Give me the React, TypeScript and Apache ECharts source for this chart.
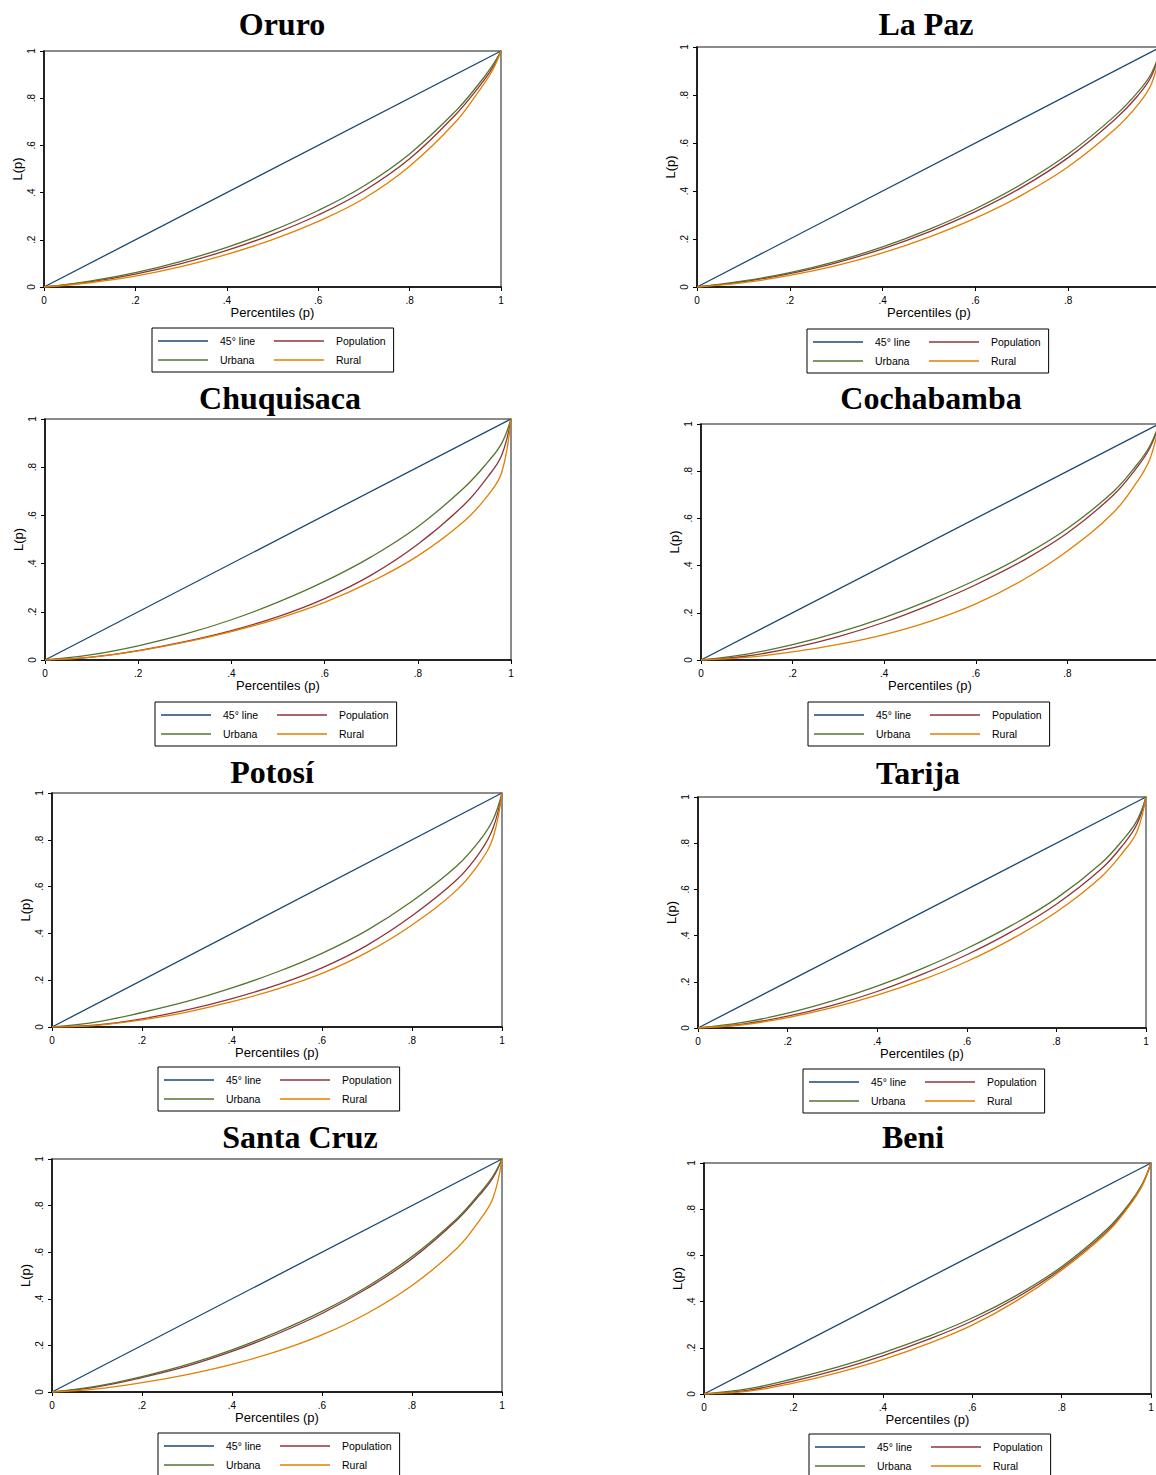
import React, { useEffect, useRef } from "react";
import * as echarts from "echarts";

// ---------- data ----------
const percentiles = [0, 0.1, 0.2, 0.3, 0.4, 0.5, 0.6, 0.7, 0.8, 0.9, 0.95, 0.98, 1];
const equalityX = [0, 1];
const equalityY = [0, 1];
const seriesNames = ["45° line", "Population", "Urbana", "Rural"];

const oruroUrbana = [0, 0.025, 0.061, 0.109, 0.168, 0.239, 0.324, 0.428, 0.564, 0.744, 0.857, 0.935, 1];
const oruroPopulation = [0, 0.022, 0.055, 0.099, 0.155, 0.223, 0.305, 0.407, 0.543, 0.729, 0.844, 0.924, 1];
const oruroRural = [0, 0.018, 0.046, 0.086, 0.138, 0.201, 0.278, 0.375, 0.512, 0.698, 0.826, 0.913, 1];

const laPazUrbana = [0, 0.025, 0.06, 0.107, 0.167, 0.24, 0.326, 0.429, 0.554, 0.712, 0.812, 0.893, 1];
const laPazPopulation = [0, 0.022, 0.056, 0.101, 0.159, 0.23, 0.314, 0.415, 0.539, 0.697, 0.797, 0.881, 1];
const laPazRural = [0, 0.018, 0.048, 0.089, 0.142, 0.208, 0.287, 0.383, 0.501, 0.656, 0.759, 0.849, 1];

const chuquisacaUrbana = [0, 0.022, 0.059, 0.107, 0.167, 0.24, 0.326, 0.428, 0.553, 0.716, 0.821, 0.899, 1];
const chuquisacaPopulation = [0, 0.012, 0.039, 0.076, 0.122, 0.18, 0.255, 0.352, 0.48, 0.645, 0.76, 0.85, 1];
const chuquisacaRural = [0, 0.012, 0.038, 0.074, 0.118, 0.172, 0.239, 0.325, 0.432, 0.577, 0.682, 0.778, 1];

const cochabambaUrbana = [0, 0.025, 0.065, 0.117, 0.18, 0.254, 0.339, 0.438, 0.557, 0.713, 0.823, 0.907, 1];
const cochabambaPopulation = [0, 0.017, 0.051, 0.099, 0.16, 0.234, 0.319, 0.418, 0.538, 0.698, 0.811, 0.898, 1];
const cochabambaRural = [0, 0.011, 0.034, 0.066, 0.108, 0.164, 0.238, 0.336, 0.462, 0.624, 0.749, 0.851, 1];

const potosiUrbana = [0, 0.022, 0.062, 0.109, 0.167, 0.235, 0.315, 0.413, 0.537, 0.689, 0.796, 0.886, 1];
const potosiPopulation = [0, 0.009, 0.035, 0.073, 0.121, 0.18, 0.253, 0.349, 0.475, 0.63, 0.744, 0.849, 1];
const potosiRural = [0, 0.007, 0.03, 0.064, 0.108, 0.162, 0.229, 0.319, 0.436, 0.586, 0.701, 0.809, 1];

const tarijaUrbana = [0, 0.024, 0.064, 0.117, 0.181, 0.257, 0.344, 0.444, 0.561, 0.713, 0.818, 0.899, 1];
const tarijaPopulation = [0, 0.017, 0.051, 0.098, 0.158, 0.232, 0.317, 0.417, 0.536, 0.688, 0.796, 0.883, 1];
const tarijaRural = [0, 0.014, 0.045, 0.088, 0.142, 0.208, 0.288, 0.385, 0.502, 0.654, 0.764, 0.851, 1];

const santaCruzUrbana = [0, 0.025, 0.066, 0.117, 0.181, 0.257, 0.346, 0.452, 0.581, 0.745, 0.852, 0.927, 1];
const santaCruzPopulation = [0, 0.022, 0.062, 0.111, 0.174, 0.249, 0.337, 0.444, 0.572, 0.738, 0.845, 0.92, 1];
const santaCruzRural = [0, 0.013, 0.04, 0.075, 0.119, 0.174, 0.245, 0.337, 0.457, 0.617, 0.737, 0.833, 1];

const beniUrbana = [0, 0.023, 0.066, 0.117, 0.178, 0.248, 0.329, 0.428, 0.551, 0.711, 0.821, 0.908, 1];
const beniPopulation = [0, 0.017, 0.056, 0.105, 0.165, 0.235, 0.316, 0.418, 0.543, 0.703, 0.814, 0.903, 1];
const beniRural = [0, 0.012, 0.047, 0.093, 0.149, 0.217, 0.298, 0.404, 0.536, 0.696, 0.811, 0.901, 1];

// ---------- layout / style ----------
const COLORS = ["#1a476f", "#90353b", "#55752f", "#e37e00"];
const SANS = '"Liberation Sans", Arial, Helvetica, sans-serif';
const SERIF = '"Liberation Serif", "Times New Roman", serif';

const panels = [
  { title: "Oruro", urb: oruroUrbana, pop: oruroPopulation, rur: oruroRural,
    tx: 282, ty: 24, grid: [44, 51, 457, 236], legend: [152, 328] },
  { title: "La Paz", urb: laPazUrbana, pop: laPazPopulation, rur: laPazRural,
    tx: 926, ty: 24, grid: [697, 47, 464, 240], legend: [807, 329] },
  { title: "Chuquisaca", urb: chuquisacaUrbana, pop: chuquisacaPopulation, rur: chuquisacaRural,
    tx: 280, ty: 398, grid: [45, 419, 466, 241], legend: [155, 702] },
  { title: "Cochabamba", urb: cochabambaUrbana, pop: cochabambaPopulation, rur: cochabambaRural,
    tx: 931, ty: 398, grid: [701, 424, 458, 236], legend: [808, 702] },
  { title: "Potosí", urb: potosiUrbana, pop: potosiPopulation, rur: potosiRural,
    tx: 272, ty: 772, grid: [52, 793, 450, 234], legend: [158, 1067] },
  { title: "Tarija", urb: tarijaUrbana, pop: tarijaPopulation, rur: tarijaRural,
    tx: 918, ty: 773, grid: [698, 797, 448, 231], legend: [803, 1069] },
  { title: "Santa Cruz", urb: santaCruzUrbana, pop: santaCruzPopulation, rur: santaCruzRural,
    tx: 300, ty: 1137, grid: [52, 1159, 450, 233], legend: [158, 1433] },
  { title: "Beni", urb: beniUrbana, pop: beniPopulation, rur: beniRural,
    tx: 913, ty: 1137, grid: [704, 1163, 447, 231], legend: [809, 1434] },
];

const fmt = (v: number) =>
  v === 0 ? "0" : v === 1 ? "1" : String(Math.round(v * 10) / 10).replace(/^0/, "");

function buildOption() {
  const title: any[] = [];
  const grid: any[] = [];
  const xAxis: any[] = [];
  const yAxis: any[] = [];
  const legend: any[] = [];
  const series: any[] = [];

  panels.forEach((p, i) => {
    title.push({
      text: p.title,
      left: p.tx,
      top: p.ty,
      padding: 0,
      textAlign: "center",
      textVerticalAlign: "middle",
      textStyle: { fontFamily: SERIF, fontWeight: "bold", fontSize: 32, color: "#000" },
    });
    grid.push({
      left: p.grid[0],
      top: p.grid[1],
      width: p.grid[2],
      height: p.grid[3],
      show: true,
      borderColor: "#666",
      borderWidth: 1.5,
      backgroundColor: "#fff",
    });
    xAxis.push({
      type: "value",
      gridIndex: i,
      min: 0,
      max: 1,
      interval: 0.2,
      name: "Percentiles (p)",
      nameLocation: "middle",
      nameGap: 19,
      nameTextStyle: { fontFamily: SANS, fontSize: 13, color: "#000" },
      axisLine: { show: true, onZero: false, lineStyle: { color: "#000", width: 1.5 } },
      axisTick: { show: true, length: 4, lineStyle: { color: "#000", width: 1 } },
      axisLabel: { fontFamily: SANS, fontSize: 10, color: "#000", margin: 8, formatter: fmt },
      splitLine: { show: false },
    });
    yAxis.push({
      type: "value",
      gridIndex: i,
      min: 0,
      max: 1,
      interval: 0.2,
      name: "L(p)",
      nameLocation: "middle",
      nameGap: 20,
      nameTextStyle: { fontFamily: SANS, fontSize: 13, color: "#000" },
      axisLine: { show: true, onZero: false, lineStyle: { color: "#000", width: 1.5 } },
      axisTick: { show: true, length: 4, lineStyle: { color: "#000", width: 1 } },
      axisLabel: { fontFamily: SANS, fontSize: 10, color: "#000", margin: 8, rotate: 90, formatter: fmt },
      splitLine: { show: false },
    });
    legend.push({
      left: p.legend[0],
      top: p.legend[1],
      orient: "horizontal",
      width: 240,
      icon: "rect",
      itemWidth: 50,
      itemHeight: 1.4,
      itemGap: 5,
      padding: [6, 8, 5, 6],
      borderColor: "#000",
      borderWidth: 1,
      backgroundColor: "#fff",
      selectedMode: false,
      data: seriesNames,
      textStyle: {
        fontFamily: SANS,
        fontSize: 10.5,
        color: "#000",
        width: 49,
        lineHeight: 14,
        padding: [0, 0, 0, 7],
      },
    });
    const curves = [
      equalityX.map((x, k) => [x, equalityY[k]]),
      percentiles.map((x, k) => [x, p.pop[k]]),
      percentiles.map((x, k) => [x, p.urb[k]]),
      percentiles.map((x, k) => [x, p.rur[k]]),
    ];
    curves.forEach((data, s) => {
      series.push({
        type: "line",
        name: seriesNames[s],
        xAxisIndex: i,
        yAxisIndex: i,
        data,
        symbol: "none",
        showSymbol: false,
        smooth: s === 0 ? false : 0.4,
        lineStyle: { color: COLORS[s], width: 1.3 },
        itemStyle: { color: COLORS[s] },
        clip: true,
        silent: true,
      });
    });
  });

  return {
    animation: false,
    backgroundColor: "#fff",
    title,
    grid,
    xAxis,
    yAxis,
    legend,
    series,
  };
}

export default function App() {
  const ref = useRef<HTMLDivElement>(null);
  useEffect(() => {
    if (!ref.current) return;
    const chart = echarts.init(ref.current, null, { renderer: "svg" });
    chart.setOption(buildOption() as any);
    return () => chart.dispose();
  }, []);
  return (
    <div
      style={{ position: "absolute", left: 0, top: 0, width: 1156, height: 1475, overflow: "hidden", background: "#fff" }}
    >
      <div ref={ref} style={{ width: 1180, height: 1475 }} />
    </div>
  );
}
